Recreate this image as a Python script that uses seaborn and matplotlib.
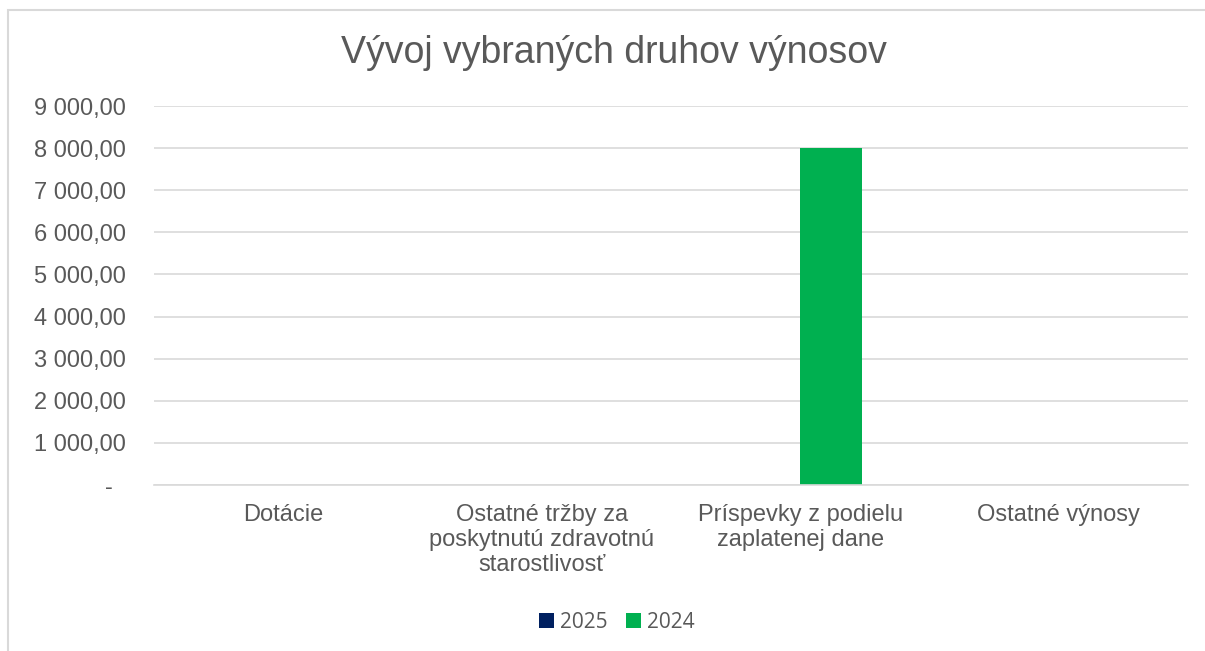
import pandas as pd
import seaborn as sns
import matplotlib.pyplot as plt
from matplotlib.patches import Rectangle
from matplotlib.ticker import FixedLocator

# chart data
categories = ["Dotácie",
              "Ostatné tržby za\nposkytnutú zdravotnú\nstarostlivosť",
              "Príspevky z podielu\nzaplatenej dane",
              "Ostatné výnosy"]
years = ["2025", "2024"]
values_2025 = [0, 0, 0, 0]
values_2024 = [0, 0, 8000, 0]
y_ticks = [0, 1000, 2000, 3000, 4000, 5000, 6000, 7000, 8000, 9000]
y_tick_labels = ["-  ", "1 000,00", "2 000,00", "3 000,00", "4 000,00",
                 "5 000,00", "6 000,00", "7 000,00", "8 000,00", "9 000,00"]

df = pd.DataFrame({
    "kategoria": categories * 2,
    "rok": ["2025"] * 4 + ["2024"] * 4,
    "hodnota": values_2025 + values_2024,
})

sns.set_theme(style="white")
plt.rcParams["font.family"] = ["Liberation Sans", "DejaVu Sans"]
text_col = "#595959"
grid_col = "#D9D9D9"

fig = plt.figure(figsize=(12.05, 6.51), dpi=100)
ax = fig.add_axes([154/1205, 1-485/651, (1188-154)/1205, (485-106)/651])

sns.barplot(data=df, x="kategoria", y="hodnota", hue="rok", hue_order=years,
            palette={"2025": "#002060", "2024": "#00B050"},
            width=0.48, saturation=1, linewidth=0, ax=ax)

ax.set_ylim(0, 9000)
ax.yaxis.set_major_locator(FixedLocator(y_ticks))
ax.set_yticklabels(y_tick_labels)
ax.set_xlabel("")
ax.set_ylabel("")
ax.set_axisbelow(True)
ax.grid(axis="y", color=grid_col, linewidth=1.2)
for s in ["top", "right", "left"]:
    ax.spines[s].set_visible(False)
ax.spines["bottom"].set_color(grid_col)
ax.spines["bottom"].set_linewidth(1.2)
ax.tick_params(axis="y", length=0, pad=20, labelsize=17, labelcolor=text_col)
ax.tick_params(axis="x", length=0, pad=14, labelsize=17, labelcolor=text_col)
for lbl in ax.get_xticklabels():
    lbl.set_linespacing(1.16)
    lbl.set_verticalalignment("top")

handles, labels = ax.get_legend_handles_labels()
ax.get_legend().remove()
for h in handles:
    h.set_edgecolor("none")
fig.legend(handles, labels, loc="center", bbox_to_anchor=(617/1205, 1-622/651),
           ncol=2, frameon=False, handlelength=0.7, handleheight=0.7,
           handletextpad=0.33, columnspacing=0.86,
           prop={"family": "Open Sans", "size": 15}, labelcolor=text_col)

fig.text(614/1205, 1-63/651, "Vývoj vybraných druhov výnosov", ha="center",
         va="baseline", fontsize=27, color=text_col)

# light chart border
fig.patches.append(Rectangle((8/1205, -0.1), 1.2, 1.1 - 10/651, transform=fig.transFigure,
                             fill=False, edgecolor=grid_col, linewidth=1.5))

fig.savefig("out.png", dpi=100)
plt.close()
